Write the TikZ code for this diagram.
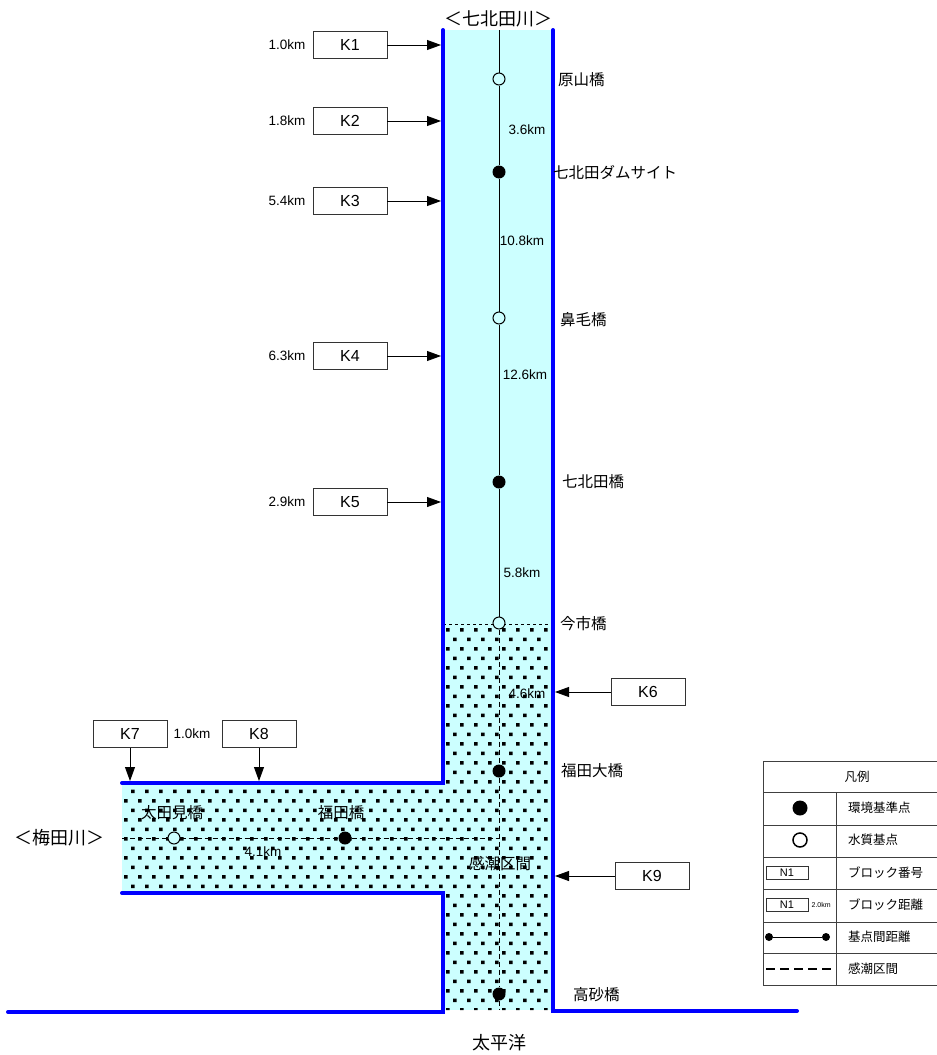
\documentclass[tikz,border=0pt]{standalone}
\usepackage{fontspec}
\setmainfont{Liberation Sans}
\newfontfamily\jp{Noto Sans CJK JP}
\usetikzlibrary{arrows.meta,positioning}
\definecolor{water}{HTML}{CCFFFF}
\definecolor{bankblue}{HTML}{0000FF}
\tikzset{
  kbox/.style={draw=black!80, line width=0.8pt, minimum width=74pt, minimum height=27pt, inner sep=0pt, font=\fontsize{16}{16}\selectfont},
  kmtext/.style={font=\fontsize{13.5}{14}\selectfont, inner sep=0pt},
  jlabel/.style={font=\jp\fontsize{15.5}{16}\selectfont, inner sep=0pt, anchor=west},
  bigjp/.style={font=\jp\fontsize{18}{18}\selectfont, inner sep=0pt},
  legtext/.style={font=\jp\fontsize{12.5}{13}\selectfont, inner sep=0pt, anchor=west},
  envpt/.style={circle, fill=black, minimum size=13pt, inner sep=0pt},
  wqpt/.style={circle, draw=black, line width=1pt, fill=water, minimum size=12pt, inner sep=0pt},
  bank/.style={draw=bankblue, line width=4pt, line cap=round},
  karrow/.style={-{Triangle[length=14pt,width=10pt]}, line width=0.8pt},
  tidal/.style={line width=0.8pt, dash pattern=on 5pt off 3pt},
  legline/.style={draw=black!75, line width=0.8pt},
}
\begin{document}
\begin{tikzpicture}[x=1pt,y=-1pt]
\useasboundingbox (0,0) rectangle (937,1055);
% water
\fill[water] (443,30) rectangle (553,1010);
\fill[water] (122,783) rectangle (443,893);
% tidal section dots
\begin{scope}
\clip (443,625) rectangle (553,1010) (122,783) rectangle (445,893);
\fill foreach \r in {0,...,41} { foreach \c in {0,...,31} { ({124+14*\c+7*mod(\r,2)},{628+9.5*\r}) rectangle ++(3.5,3.5) } };
\end{scope}
\draw[line width=0.6pt, dash pattern=on 3pt off 3pt] (443,624) -- (553,624);
% banks
\draw[bank] (443,30) -- (443,783) -- (122,783);
\draw[bank] (122,893) -- (443,893) -- (443,1012) -- (8,1012);
\draw[bank] (553,30) -- (553,1011) -- (797,1011);
\coordinate (bankL) at (441,0);
\coordinate (bankR) at (555,0);
\coordinate (bankT) at (0,781);

% stations
\coordinate (src) at (499,30);
\node[wqpt] (harayama) at (499,79) {};
\node[envpt] (damsite) at (499,172) {};
\node[wqpt] (hanage) at (499,318) {};
\node[envpt] (nanakita) at (499,482) {};
\node[wqpt] (imaichi) at (499,623) {};
\node[envpt] (fukudaoh) at (499,771) {};
\node[envpt] (takasago) at (499,994) {};
\coordinate (mouth) at (499,1010);
\coordinate (junc) at (499,838);
\coordinate (umeend) at (122,838);
\node[wqpt] (otami) at (174,838) {};
\node[envpt] (fukuda) at (345,838) {};
\draw[line width=0.8pt] (src) -- (harayama) -- (damsite) -- (hanage) -- (nanakita) -- (imaichi);
\draw[tidal] (imaichi) -- (fukudaoh) -- (takasago) -- (mouth);
\draw[tidal] (umeend) -- (otami) -- (fukuda) -- (junc);

\node[jlabel] at (558,80) {原山橋};
\node[jlabel] at (553,172) {七北田ダムサイト};
\node[jlabel] at (560,320) {鼻毛橋};
\node[jlabel] at (562,482) {七北田橋};
\node[jlabel] at (560,624) {今市橋};
\node[jlabel] at (561,771) {福田大橋};
\node[jlabel] at (573,995) {高砂橋};
\node[jlabel, anchor=center] at (500,864) {感潮区間};
\node[jlabel, anchor=center] at (172,813) {太田見橋};
\node[jlabel, anchor=center] at (341,813) {福田橋};

\node[kmtext] at (527,130) {3.6km};
\node[kmtext] at (522,241) {10.8km};
\node[kmtext] at (525,375) {12.6km};
\node[kmtext] at (522,573) {5.8km};
\node[kmtext] at (527,694) {4.6km};
\node[kmtext] at (263,852) {4.1km};

\node[bigjp] (title) at (498,19) {＜七北田川＞};
\node[bigjp] (umeda) at (59,838) {＜梅田川＞};
\node[bigjp] (pacific) at (499,1043) {太平洋};

% blocks
\node[kbox] (k1) at (350,45) {K1};
\node[kbox] (k2) at (350,121) {K2};
\node[kbox] (k3) at (350,201) {K3};
\node[kbox] (k4) at (350,356) {K4};
\node[kbox] (k5) at (350,502) {K5};
\node[kbox] (k6) at (648,692) {K6};
\node[kbox] (k7) at (130,734) {K7};
\node[kbox] (k8) at (259,734) {K8};
\node[kbox] (k9) at (652,876) {K9};
\node[kmtext, left=7pt of k1] {1.0km};
\node[kmtext, left=7pt of k2] {1.8km};
\node[kmtext, left=7pt of k3] {5.4km};
\node[kmtext, left=7pt of k4] {6.3km};
\node[kmtext, left=7pt of k5] {2.9km};
\node[kmtext, right=6pt of k7] {1.0km};
\foreach \k in {k1,k2,k3,k4,k5}
  \draw[karrow] (\k.east) -- (\k.east -| bankL);
\foreach \k in {k6,k9}
  \draw[karrow] (\k.west) -- (\k.west -| bankR);
\foreach \k in {k7,k8}
  \draw[karrow] (\k.south) -- (\k.south |- bankT);

% legend
\draw[legline] (763,761) rectangle (951,985);
\foreach \y in {792,825,857,889,922,953}
  \draw[legline] (763,\y) -- (951,\y);
\draw[legline] (836,792) -- (836,985);
\node[legtext, anchor=center] at (857,777) {凡例};
\node[envpt, minimum size=15pt] (lgenv) at (800,808) {};
\node[wqpt, minimum size=14pt, fill=white, line width=1.5pt] (lgwq) at (800,840) {};
\node[draw=black!80, line width=0.8pt, minimum width=42pt, minimum height=13pt, inner sep=0pt, font=\fontsize{11}{11}\selectfont] (lgblk) at (787,873) {N1};
\node[draw=black!80, line width=0.8pt, minimum width=42pt, minimum height=13pt, inner sep=0pt, font=\fontsize{11}{11}\selectfont] (lgdist) at (787,905) {N1};
\node[font=\fontsize{7}{7}\selectfont, inner sep=0pt, right=3pt of lgdist] {2.0km};
\node[circle, fill=black, minimum size=8pt, inner sep=0pt] (lga) at (769,937) {};
\node[circle, fill=black, minimum size=8pt, inner sep=0pt] (lgb) at (826,937) {};
\draw[line width=0.8pt] (lga) -- (lgb);
\draw[line width=2pt, dash pattern=on 9pt off 5pt] (766,969) -- (833,969);
\node[legtext] at (848,808) {環境基準点};
\node[legtext] at (848,840) {水質基点};
\node[legtext] at (848,873) {ブロック番号};
\node[legtext] at (848,905) {ブロック距離};
\node[legtext] at (848,937) {基点間距離};
\node[legtext] at (848,969) {感潮区間};
\end{tikzpicture}
\end{document}
